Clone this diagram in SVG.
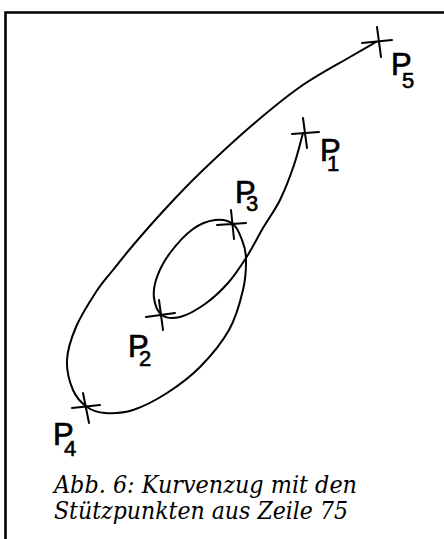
<svg xmlns="http://www.w3.org/2000/svg" width="444" height="539" viewBox="0 0 444 539">
<style>
.frame{fill:none;stroke:#000;stroke-width:2.6}
.curve{fill:none;stroke:#000;stroke-width:2;stroke-linecap:round;stroke-linejoin:round}
.cross{stroke:#000;stroke-width:2;stroke-linecap:round}
.lbl{font-family:"Liberation Sans",Arial,sans-serif;font-size:31px;fill:#000;stroke:#000;stroke-width:0.7}
.sub{font-size:22px;stroke-width:0.6}
.cap{font-family:"DejaVu Serif","Liberation Serif",serif;font-style:italic;font-size:24px;fill:#000}
</style>
<rect width="444" height="539" fill="#fff"/>
<path class="frame" d="M5.5,539 V12.5 H444"/>
<g id="connectors">
<path class="curve" d="M303,133 C301.5,138.33 297.83,153.83 294,165 C290.17,176.17 285.17,189.5 280,200 C274.83,210.5 268.67,218.33 263,228 C257.33,237.67 251.83,248.83 246,258 C240.17,267.17 234.83,275.33 228,283 C221.17,290.67 213,298.33 205,304 C197,309.67 187.17,315.17 180,317 C172.83,318.83 166.33,318.17 162,315 C157.67,311.83 154.83,304.33 154,298 C153.17,291.67 154.33,284.5 157,277 C159.67,269.5 164,261 170,253 C176,245 185.5,234.5 193,229 C200.5,223.5 208.33,220.83 215,220 C221.67,219.17 228.5,220.67 233,224 C237.5,227.33 239.83,234.33 242,240 C244.17,245.67 245.83,249.67 246,258 C246.17,266.33 245.83,278 243,290 C240.17,302 236.17,317.17 229,330 C221.83,342.83 210.33,356.5 200,367 C189.67,377.5 178.17,385.83 167,393 C155.83,400.17 143.33,406.67 133,410 C122.67,413.33 112.67,413.5 105,413 C97.33,412.5 92.33,410.83 87,407 C81.67,403.17 76.33,397.83 73,390 C69.67,382.17 66.5,370.5 67,360 C67.5,349.5 71.17,338.33 76,327 C80.83,315.67 89.83,301.5 96,292 C102.17,282.5 106.5,278.17 113,270 C119.5,261.83 126,253.5 135,243 C144,232.5 156.17,218.67 167,207 C177.83,195.33 186.17,186.33 200,173 C213.83,159.67 233.33,141.33 250,127 C266.67,112.67 283.33,98.67 300,87 C316.67,75.33 337.33,64.5 350,57 C362.67,49.5 371.67,44.5 376,42"/>
</g>
<g id="P1">
<path class="cross" d="M292,134 L319,132 M303,118 L307,148"/>
<text class="lbl" x="320" y="161">P<tspan class="sub" x="327" y="171">1</tspan></text>
</g>
<g id="P2">
<path class="cross" d="M146,317 L175,313 M159,300 L163,330"/>
<text class="lbl" x="128" y="357">P<tspan class="sub" x="139" y="366">2</tspan></text>
</g>
<g id="P3">
<path class="cross" d="M217,225 L246,223 M231,210 L234,239"/>
<text class="lbl" x="235" y="203">P<tspan class="sub" x="246" y="211">3</tspan></text>
</g>
<g id="P4">
<path class="cross" d="M72,408 L100,405 M83,393 L89,423"/>
<text class="lbl" x="53" y="445">P<tspan class="sub" x="64" y="456">4</tspan></text>
</g>
<g id="P5">
<path class="cross" d="M362,43 L392,40 M377,27 L381,57"/>
<text class="lbl" x="391" y="75">P<tspan class="sub" x="402" y="88">5</tspan></text>
</g>
<g id="caption">
<text class="cap" x="54" y="493" textLength="303" lengthAdjust="spacingAndGlyphs">Abb. 6: Kurvenzug mit den</text>
<text class="cap" x="54" y="519" textLength="294" lengthAdjust="spacingAndGlyphs">Stützpunkten aus Zeile 75</text>
</g>
</svg>
